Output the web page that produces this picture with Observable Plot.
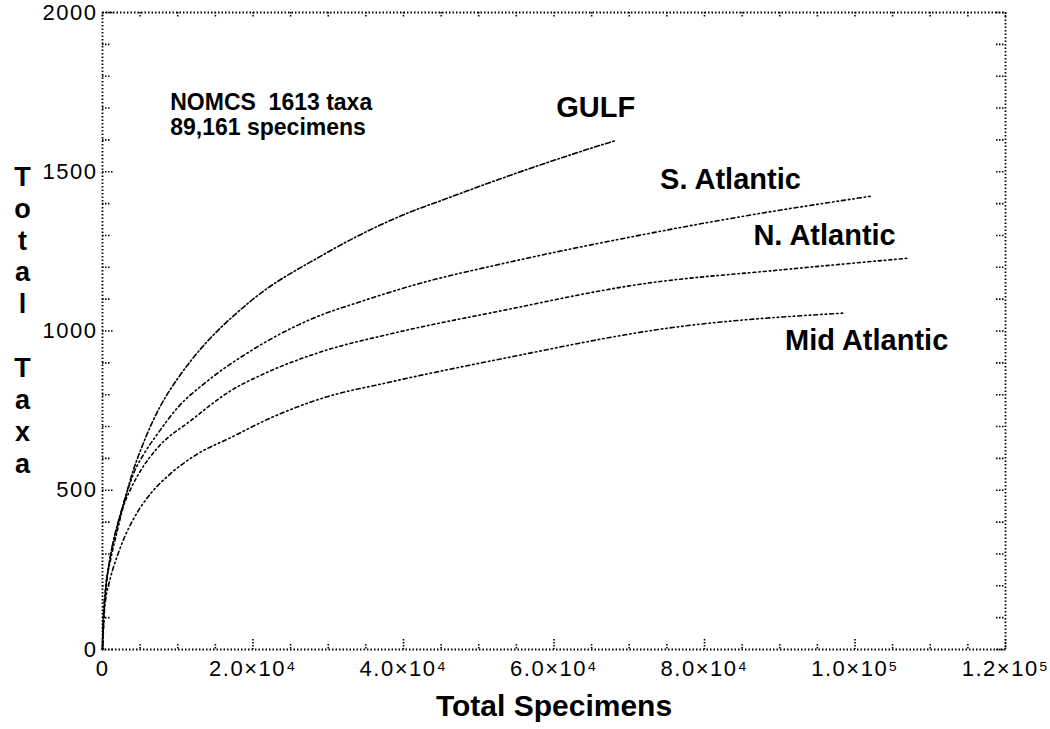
<!DOCTYPE html>
<html><head><meta charset="utf-8">
<script src="https://cdn.jsdelivr.net/npm/d3@7"></script>
<script src="https://cdn.jsdelivr.net/npm/@observablehq/plot@0.6"></script>
<style>
body{margin:0;background:#fff}svg{display:block}
g[aria-label="x-axis tick label"] text, g[aria-label="y-axis tick label"] text{letter-spacing:1.5px}
</style>
</head><body><div id="chart"></div>
<script>
// ---- data ----
const regions = ["GULF", "S. Atlantic", "N. Atlantic", "Mid Atlantic"];

const gulfSpecimens = [0, 130, 400, 800, 1460, 2390, 3060, 4120, 5050, 6650, 7710, 9970, 11700, 19700, 29000, 39600, 46200, 52900, 60900, 68300];
const gulfTaxa      = [0, 113, 185, 257, 342, 426, 480, 565, 625, 715, 765, 850, 905, 1094, 1235, 1361, 1420, 1478, 1543, 1599];

const sAtlSpecimens = [0, 400, 800, 1730, 2660, 3320, 4120, 5450, 7310, 9970, 13950, 19670, 29370, 33360, 42260, 52890, 70170, 85590, 102070];
const sAtlTaxa      = [0, 176, 257, 364, 445, 498, 552, 612, 677, 759, 843, 937, 1053, 1085, 1150, 1210, 1295, 1362, 1423];

const nAtlSpecimens = [0, 400, 1060, 1990, 2790, 3720, 5050, 7310, 11700, 17010, 21400, 29370, 38280, 52890, 71500, 90240, 107250];
const nAtlTaxa      = [0, 190, 280, 375, 450, 503, 561, 633, 718, 812, 865, 937, 991, 1063, 1147, 1192, 1229];

const midSpecimens  = [0, 130, 400, 1060, 1990, 2790, 4120, 6380, 9040, 12630, 17010, 22330, 29370, 38280, 52890, 75150, 98350];
const midTaxa       = [0, 100, 154, 226, 295, 345, 410, 489, 552, 614, 665, 727, 790, 840, 912, 1009, 1056];

// label anchor values (data units)
const labelSpecimens = [60300, 74100, 86500, 90700];
const labelTaxa      = [1700, 1476, 1298, 969];

const noteLines = ["NOMCS  1613 taxa", "89,161 specimens"];
const noteSpecimens = 9000, noteTaxa = 1748;

const xTicks = [0, 20000, 40000, 60000, 80000, 100000, 120000];
const xTickLabels = ["0", "2.0×10⁴", "4.0×10⁴", "6.0×10⁴", "8.0×10⁴", "1.0×10⁵", "1.2×10⁵"];
const xMinorTicks = d3.range(0, 120001, 5000);
const yTicks = [0, 500, 1000, 1500, 2000];
const yTickLabels = ["0", "500", "1000", "1500", "2000"];
const yMinorTicks = d3.range(0, 2001, 100);

const xTitle = "Total Specimens";
const yTitle = "Total Taxa";

// ---- build tables ----
const series = [
  [gulfSpecimens, gulfTaxa], [sAtlSpecimens, sAtlTaxa], [nAtlSpecimens, nAtlTaxa], [midSpecimens, midTaxa]
];
const rows = series.flatMap(([xs, ys], k) => xs.map((x, i) => ({region: regions[k], specimens: x, taxa: ys[i]})));
const labels = regions.map((r, i) => ({region: r, specimens: labelSpecimens[i], taxa: labelTaxa[i]}));
const dashes = {"GULF": "5,2.5,1.5,2.5", "S. Atlantic": "1.5,3,4,3,1.5,3", "N. Atlantic": "1.5,3,3,3", "Mid Atlantic": "4,3,1.5,3,1.5,3"};

const W = 1050, H = 729, mL = 102, mR = 45, mT = 12, mB = 80;
const innerW = W - mL - mR, innerH = H - mT - mB;
const majX = new Set(xTicks), majY = new Set(yTicks);
const tickStyle = {stroke: "#000", strokeWidth: 1.6, strokeDasharray: "1.5,1.5"};

const chart = Plot.plot({
  width: W, height: H,
  marginLeft: mL, marginRight: mR, marginTop: mT, marginBottom: mB,
  style: {fontFamily: "'Liberation Sans', Arial, sans-serif", background: "#fff", color: "#000"},
  x: {domain: [0, 120000]},
  y: {domain: [0, 2000]},
  marks: [
    Plot.frame({stroke: "#000", strokeWidth: 1.8, strokeDasharray: "1.5,2"}),
    // inward ticks, bottom/top
    Plot.tickX(xMinorTicks, {x: d => d, ...tickStyle, filter: d => !majX.has(d), insetTop: innerH - 5}),
    Plot.tickX(xTicks, {x: d => d, ...tickStyle, insetTop: innerH - 10}),
    Plot.tickX(xMinorTicks, {x: d => d, ...tickStyle, insetBottom: innerH - 5}),
    // inward ticks, left/right
    Plot.tickY(yMinorTicks, {y: d => d, ...tickStyle, filter: d => !majY.has(d), insetRight: innerW - 8}),
    Plot.tickY(yTicks, {y: d => d, ...tickStyle, insetRight: innerW - 12}),
    Plot.tickY(yMinorTicks, {y: d => d, ...tickStyle, insetLeft: innerW - 9}),
    Plot.axisX(xTicks, {tickSize: 0, tickPadding: 11, fontSize: 22, tickFormat: d => xTickLabels[xTicks.indexOf(d)], label: null}),
    Plot.axisY(yTicks, {tickSize: 0, tickPadding: 5, fontSize: 22, tickFormat: d => yTickLabels[yTicks.indexOf(d)], label: null}),
    ...regions.map(r => Plot.line(rows.filter(d => d.region === r), {
      x: "specimens", y: "taxa", stroke: "#000", strokeWidth: 1.6, strokeDasharray: dashes[r], curve: "monotone-x"
    })),
    Plot.text(labels, {x: "specimens", y: "taxa", text: "region", textAnchor: "start", fontSize: 29, fontWeight: "bold"}),
    Plot.text([noteLines.join("\n")], {x: () => noteSpecimens, y: () => noteTaxa, text: d => d, textAnchor: "start", lineAnchor: "top", lineHeight: 1.07, fontSize: 23, fontWeight: "bold"}),
    Plot.text([xTitle], {text: d => d, frameAnchor: "bottom", dy: 66, fontSize: 30, fontWeight: "bold"}),
    Plot.text([yTitle.split("").join("\n")], {text: d => d, frameAnchor: "left", dx: -80, dy: -12, textAnchor: "middle", lineHeight: 1.18, fontSize: 27, fontWeight: "bold"})
  ]
});
document.getElementById("chart").append(chart);
</script>
</body></html>
